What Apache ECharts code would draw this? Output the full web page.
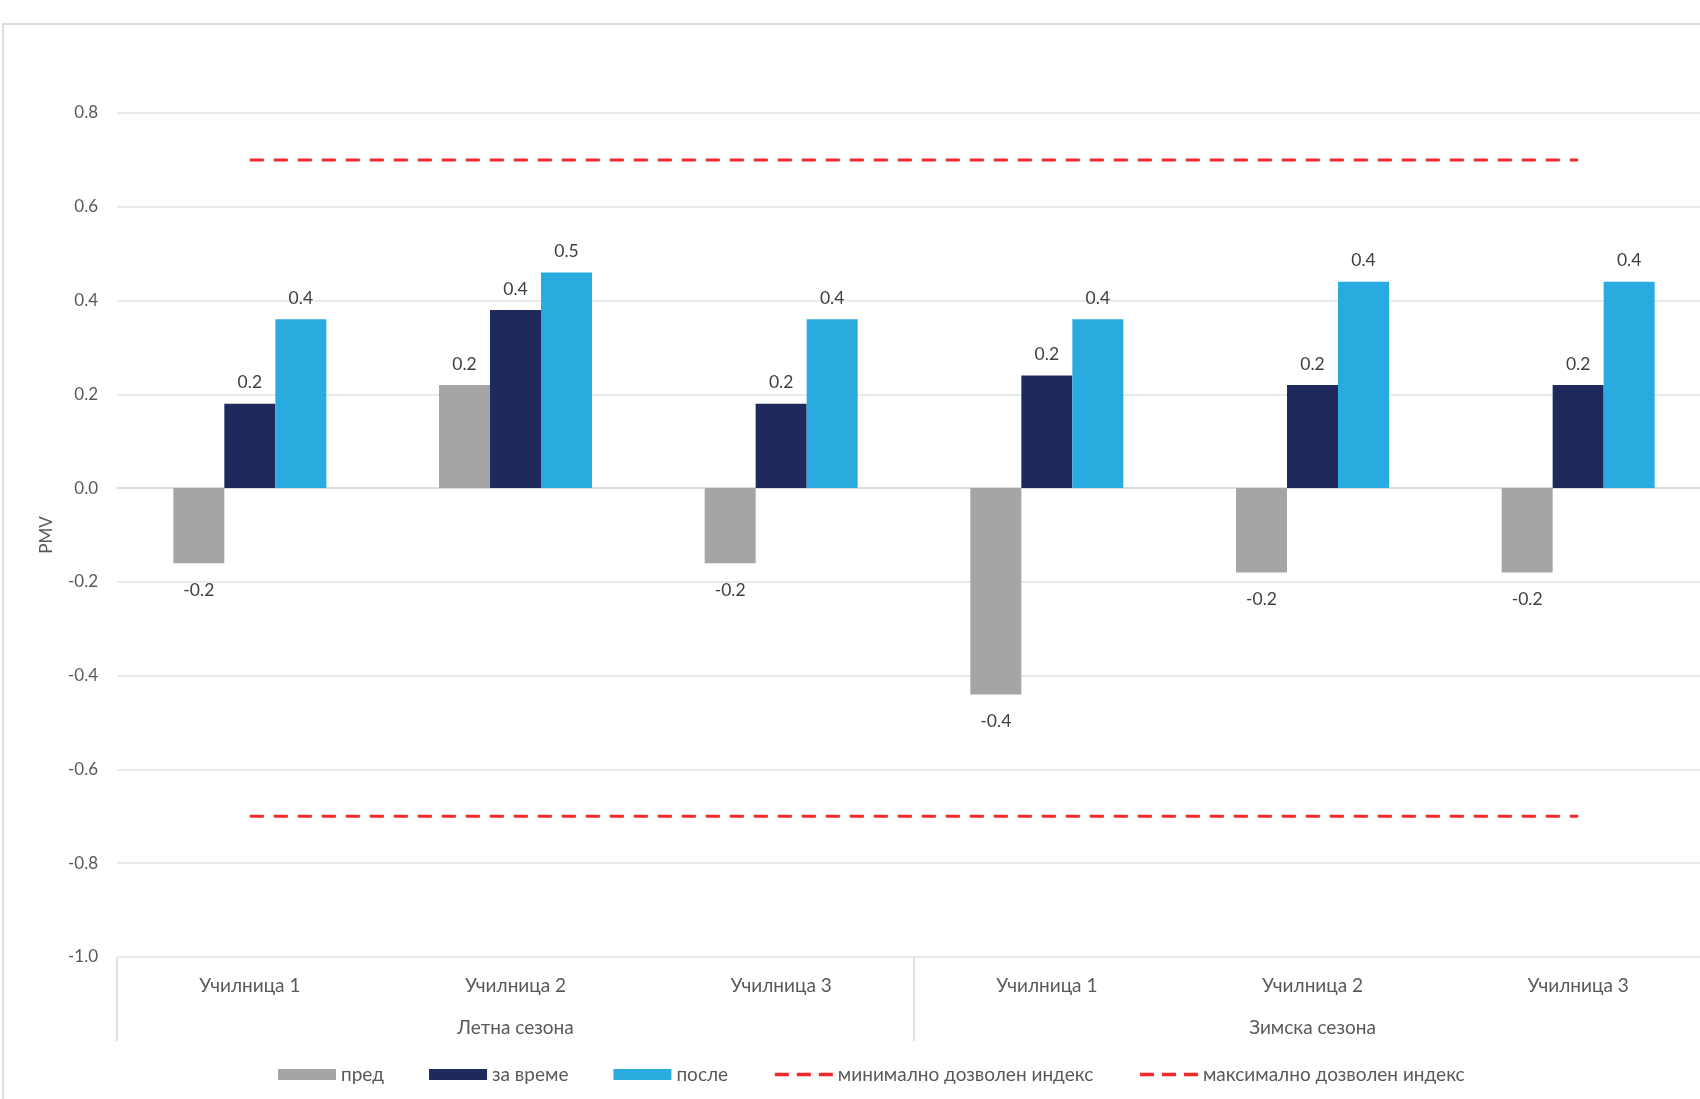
<!DOCTYPE html>
<html>
<head>
<meta charset="utf-8">
<script src="https://cdn.jsdelivr.net/npm/echarts@6/dist/echarts.min.js"></script>
<style>
  html, body { margin: 0; padding: 0; background: #ffffff; overflow: hidden; width: 1700px; height: 1099px; }
  #frame { position: absolute; left: 2px; top: 23px; width: 1800px; height: 1200px; border: 2px solid #dcdcdc; box-sizing: border-box; }
  #chart { position: absolute; left: 0; top: 0; width: 1711px; height: 1099px; }
</style>
</head>
<body>
<div id="frame"></div>
<div id="chart"></div>
<script>
const schools = ['Училница 1', 'Училница 2', 'Училница 3', 'Училница 1', 'Училница 2', 'Училница 3'];
const seasons = ['Летна сезона', 'Зимска сезона'];
const before = [-0.16, 0.22, -0.16, -0.44, -0.18, -0.18];
const during = [0.18, 0.38, 0.18, 0.24, 0.22, 0.22];
const after = [0.36, 0.46, 0.36, 0.36, 0.44, 0.44];
const minIndex = [-0.7, -0.7, -0.7, -0.7, -0.7, -0.7];
const maxIndex = [0.7, 0.7, 0.7, 0.7, 0.7, 0.7];
const seriesNames = ['пред', 'за време', 'после', 'минимално дозволен индекс', 'максимално дозволен индекс'];
const yTicks = { min: -1.0, max: 0.8, step: 0.2 };

const FONT = 'Lato';
const labelColor = '#404040';
const axisColor = '#595959';
const RED = '#f22a2a';

function barData(values) {
  return values.map(v => ({
    value: v,
    label: { position: v < 0 ? 'bottom' : 'top', distance: v < 0 ? 18 : 12 }
  }));
}

function barSeries(name, values, color) {
  return {
    name: name,
    type: 'bar',
    xAxisIndex: 0,
    data: barData(values),
    barWidth: 51,
    barGap: '0%',
    itemStyle: { color: color },
    label: {
      show: true,
      color: labelColor,
      fontSize: 17.5,
      fontFamily: FONT,
      formatter: p => p.value.toFixed(1)
    },
    emphasis: { disabled: true }
  };
}

function lineSeries(name, values) {
  return {
    name: name,
    type: 'line',
    xAxisIndex: 0,
    data: values,
    symbol: 'none',
    lineStyle: { color: RED, width: 3, type: [14, 10] },
    itemStyle: { color: RED },
    z: 5,
    emphasis: { disabled: true }
  };
}

const chart = echarts.init(document.getElementById('chart'), null, { renderer: 'canvas' });
chart.setOption({
  animation: false,
  backgroundColor: 'transparent',
  textStyle: { fontFamily: FONT },
  grid: { left: 117, top: 113, width: 1594, height: 844, containLabel: false },
  legend: {
    left: 273,
    top: 1060,
    itemWidth: 58,
    itemHeight: 11,
    itemGap: 45,
    textStyle: { color: axisColor, fontSize: 19, fontFamily: FONT },
    data: [
      { name: seriesNames[0], icon: 'rect' },
      { name: seriesNames[1], icon: 'rect' },
      { name: seriesNames[2], icon: 'rect' },
      { name: seriesNames[3], itemStyle: { opacity: 0 }, lineStyle: { type: [14, 8], width: 3.5 } },
      { name: seriesNames[4], itemStyle: { opacity: 0 }, lineStyle: { type: [14, 8], width: 3.5 } }
    ]
  },
  xAxis: [
    {
      type: 'category',
      data: schools,
      position: 'bottom',
      axisLine: { show: true, lineStyle: { color: '#d9d9d9', width: 1.5 } },
      axisTick: { show: false },
      axisLabel: { color: axisColor, fontSize: 19, fontFamily: FONT, margin: 19, interval: 0 },
      splitLine: { show: false }
    },
    {
      type: 'category',
      data: seasons,
      position: 'bottom',
      axisLine: { show: false },
      axisTick: { show: true, length: 84, lineStyle: { color: '#d9d9d9', width: 1.5 } },
      axisLabel: { color: axisColor, fontSize: 19, fontFamily: FONT, margin: 61, interval: 0 },
      splitLine: { show: false }
    }
  ],
  yAxis: {
    type: 'value',
    min: yTicks.min,
    max: yTicks.max,
    interval: yTicks.step,
    name: 'PMV',
    nameLocation: 'middle',
    nameGap: 62,
    nameTextStyle: { color: axisColor, fontSize: 17, fontFamily: FONT },
    axisLine: { show: false },
    axisTick: { show: false },
    axisLabel: { color: axisColor, fontSize: 17, fontFamily: FONT, margin: 19, formatter: v => v.toFixed(1) },
    splitLine: { lineStyle: { color: '#e3e3e3', width: 1.5 } }
  },
  series: [
    barSeries(seriesNames[0], before, '#a5a5a5'),
    barSeries(seriesNames[1], during, '#20295b'),
    barSeries(seriesNames[2], after, '#29abe0'),
    lineSeries(seriesNames[3], minIndex),
    lineSeries(seriesNames[4], maxIndex)
  ]
});
</script>
</body>
</html>
